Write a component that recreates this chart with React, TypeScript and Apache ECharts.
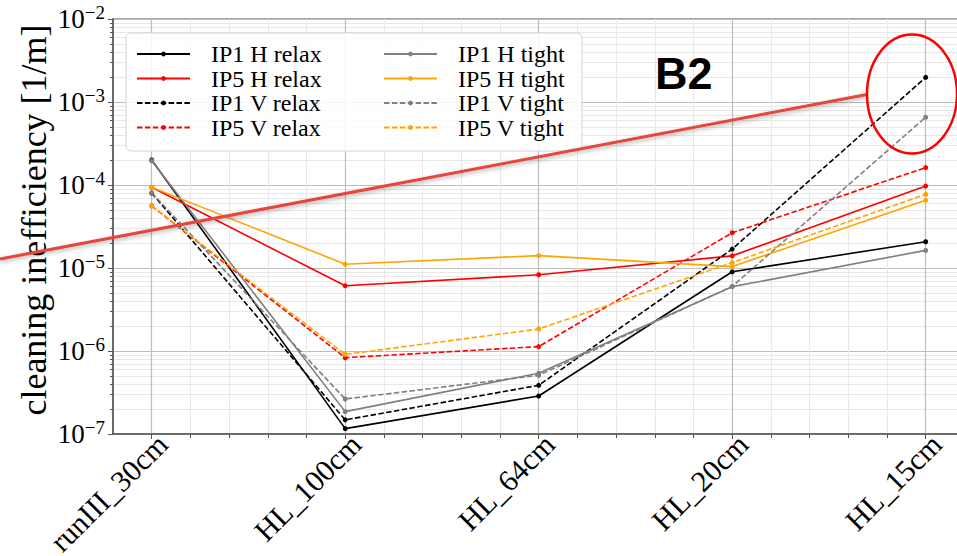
import React, { useEffect, useRef } from "react";
import * as echarts from "echarts";

const categories = ["runIII_30cm", "HL_100cm", "HL_64cm", "HL_20cm", "HL_15cm"];

const ip1HRelax = [2.0e-4, 1.16e-7, 2.87e-7, 9.0e-6, 2.07e-5];
const ip5HRelax = [9.4e-5, 6.1e-6, 8.3e-6, 1.4e-5, 9.7e-5];
const ip1VRelax = [8.0e-5, 1.48e-7, 3.86e-7, 1.69e-5, 1.98e-3];
const ip5VRelax = [5.6e-5, 8.3e-7, 1.13e-6, 2.66e-5, 1.62e-4];
const ip1HTight = [1.96e-4, 1.86e-7, 5.4e-7, 5.96e-6, 1.63e-5];
const ip5HTight = [9.4e-5, 1.11e-5, 1.41e-5, 1.04e-5, 6.53e-5];
const ip1VTight = [8.07e-5, 2.64e-7, 5.1e-7, 6.0e-6, 6.55e-4];
const ip5VTight = [5.58e-5, 9.1e-7, 1.84e-6, 1.16e-5, 7.73e-5];

const seriesNames = [
  "IP1 H relax",
  "IP5 H relax",
  "IP1 V relax",
  "IP5 V relax",
  "IP1 H tight",
  "IP5 H tight",
  "IP1 V tight",
  "IP5 V tight",
];

const SERIF = "Liberation Serif";
const DASH = [5.5, 2.4];

export default function App() {
  const ref = useRef<HTMLDivElement>(null);

  useEffect(() => {
    document.body.style.margin = "0";
    if (!ref.current) return;
    const chart = echarts.init(ref.current, null, { renderer: "svg" });

    const catIdx = categories.map((_, i) => i);
    // label anchors nudged slightly right of each tick, as in the reference
    const labelPos = catIdx.map((i) => i + 0.055);
    const xMinor: number[] = [];
    for (let i = 0; i < categories.length; i++) {
      for (let k = 1; k <= 4; k++) xMinor.push(i + k * 0.2);
    }
    const yMinor: number[] = [];
    for (let d = -7; d <= -3; d++) {
      for (let k = 2; k <= 9; k++) yMinor.push(k * Math.pow(10, d));
    }

    const defs: [string, number[], string, boolean][] = [
      [seriesNames[0], ip1HRelax, "#000000", false],
      [seriesNames[1], ip5HRelax, "#ff0000", false],
      [seriesNames[2], ip1VRelax, "#000000", true],
      [seriesNames[3], ip5VRelax, "#ff0000", true],
      [seriesNames[4], ip1HTight, "#808080", false],
      [seriesNames[5], ip5HTight, "#ffa500", false],
      [seriesNames[6], ip1VTight, "#808080", true],
      [seriesNames[7], ip5VTight, "#ffa500", true],
    ];

    const series = defs.map(([name, vals, color, dashed]) => ({
      name,
      type: "line",
      xAxisIndex: 0,
      yAxisIndex: 0,
      data: vals.map((v, i) => [catIdx[i], v]),
      symbol: "circle",
      symbolSize: 5,
      showSymbol: true,
      lineStyle: { color, width: 1.6, type: dashed ? DASH : "solid" },
      itemStyle: { color },
      emphasis: { disabled: true },
    }));

    const legendCommon = {
      orient: "vertical",
      itemWidth: 53,
      itemHeight: 6,
      itemGap: 0.5,
      padding: 0,
      z: 10,
      textStyle: {
        fontFamily: SERIF,
        fontSize: 24,
        lineHeight: 24,
        color: "#000",
        padding: [0, 0, 0, 16],
      },
    };

    const option: any = {
      animation: false,
      grid: {
        left: 113,
        top: 19,
        width: 851.4,
        height: 415,
        outerBoundsMode: "none",
        containLabel: false,
        show: true,
        borderColor: "#8a8a8a",
        borderWidth: 1.5,
        backgroundColor: "transparent",
      },
      legend: [
        { ...legendCommon, data: seriesNames.slice(0, 4), left: 136, top: 42 },
        { ...legendCommon, data: seriesNames.slice(4, 8), left: 383, top: 42 },
      ],
      xAxis: [
        {
          type: "value",
          min: -0.2,
          max: 4.2,
          position: "bottom",
          axisLine: { show: true, onZero: false, lineStyle: { color: "#555", width: 1.5 } },
          axisTick: { show: true, customValues: catIdx, length: 5, lineStyle: { color: "#555", width: 1 } },
          axisLabel: {
            customValues: labelPos,
            formatter: (v: number) => categories[Math.round(v)] ?? "",
            rotate: 45,
            fontFamily: SERIF,
            fontSize: 30,
            color: "#000",
            margin: 5,
          },
          splitLine: { show: true, lineStyle: { color: "#bdbdbd", width: 1.2 } },
        },
        {
          type: "value",
          min: -0.2,
          max: 4.2,
          position: "bottom",
          axisLine: { show: false, onZero: false },
          axisTick: { show: true, customValues: xMinor, length: 4, lineStyle: { color: "#555", width: 1 } },
          axisLabel: { show: false },
          splitLine: { show: true, lineStyle: { color: "#e8e8e8", width: 1 } },
        },
      ],
      yAxis: [
        {
          type: "log",
          logBase: 10,
          min: 1e-7,
          max: 1e-2,
          splitNumber: 5,
          position: "left",
          axisLine: { show: true, onZero: false, lineStyle: { color: "#555", width: 1.5 } },
          axisTick: { show: true, length: 5, lineStyle: { color: "#555", width: 1 } },
          axisLabel: {
            margin: 8,
            formatter: (v: number) => {
              const e = Math.round(Math.log10(v));
              return `{b|10}{s|\u2212${-e}}`;
            },
            rich: {
              b: { fontFamily: SERIF, fontSize: 27, color: "#000" },
              s: { fontFamily: SERIF, fontSize: 19, color: "#000", padding: [0, 0, 14, 0] },
            },
          },
          splitLine: { show: true, lineStyle: { color: "#bdbdbd", width: 1.2 } },
        },
        {
          type: "log",
          logBase: 10,
          min: 1e-7,
          max: 1e-2,
          position: "left",
          axisLine: { show: false, onZero: false },
          axisTick: { show: true, customValues: yMinor, length: 3, lineStyle: { color: "#555", width: 1 } },
          axisLabel: { show: false },
          splitLine: { show: true, lineStyle: { color: "#e8e8e8", width: 1 } },
        },
      ],
      series,
      graphic: [
        {
          type: "rect",
          z: 5,
          shape: { x: 126, y: 33, width: 456, height: 118, r: 5 },
          style: { fill: "rgba(255,255,255,0.85)", stroke: "#d4d4d4", lineWidth: 1 },
          silent: true,
        },
        {
          type: "text",
          z: 20,
          x: 34,
          y: 220,
          rotation: Math.PI / 2,
          style: {
            text: "cleaning inefficiency [1/m]",
            fontFamily: SERIF,
            fontSize: 36,
            fill: "#000",
            textAlign: "center",
            textVerticalAlign: "middle",
          },
        },
        {
          type: "text",
          z: 20,
          x: 655,
          y: 73,
          style: {
            text: "B2",
            fontFamily: "Liberation Sans",
            fontWeight: "bold",
            fontSize: 45,
            fill: "#000",
            textAlign: "left",
            textVerticalAlign: "middle",
          },
        },
        {
          type: "line",
          z: 20,
          shape: { x1: 0, y1: 259, x2: 867, y2: 94.5 },
          style: {
            stroke: "#e3463d",
            lineWidth: 3,
            shadowBlur: 4,
            shadowColor: "rgba(0,0,0,0.3)",
            shadowOffsetY: 2,
          },
          silent: true,
        },
        {
          type: "ellipse",
          z: 20,
          shape: { cx: 912, cy: 94, rx: 45, ry: 59.5 },
          style: { fill: "none", stroke: "#ff0000", lineWidth: 2.5 },
          silent: true,
        },
      ],
    };

    chart.setOption(option);
    return () => chart.dispose();
  }, []);

  return <div ref={ref} style={{ width: 957, height: 556 }} />;
}
